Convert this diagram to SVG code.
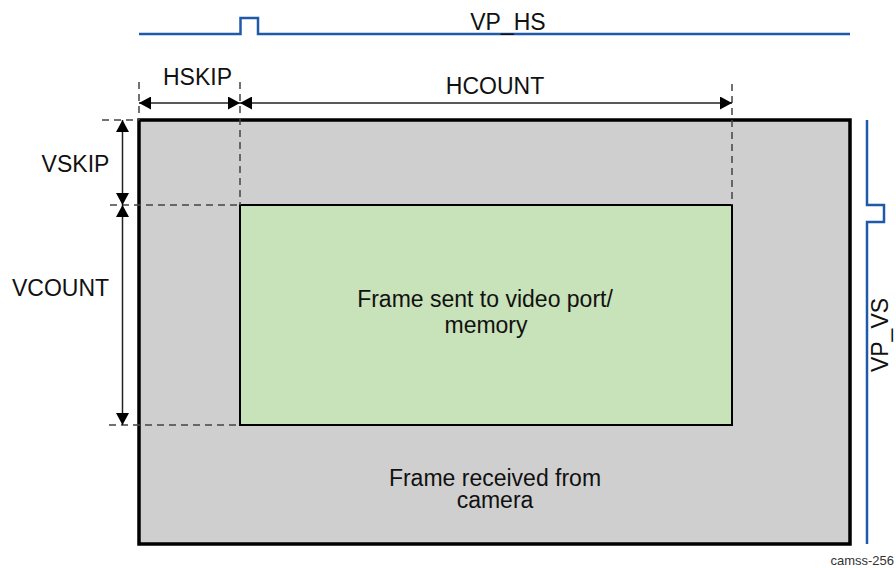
<svg xmlns="http://www.w3.org/2000/svg" width="896" height="568" viewBox="0 0 896 568">
<style>
.t{font-family:"Liberation Sans",Arial,sans-serif;font-size:23px;fill:#111;text-anchor:middle}
.sig{fill:none;stroke:#1f5aa8;stroke-width:2.5}
.dash{fill:none;stroke:#444;stroke-width:1.5;stroke-dasharray:7,5}
.dim{fill:none;stroke:#222;stroke-width:1.5}
</style>
<defs>
<marker id="ah" markerUnits="userSpaceOnUse" markerWidth="12" markerHeight="13" refX="12" refY="6.5" orient="auto-start-reverse" viewBox="0 0 12 13">
<path d="M0,0 L12,6.5 L0,13 z" fill="#000"/>
</marker>
</defs>
<rect width="896" height="568" fill="#fff"/>
<g id="frame-received">
<rect x="139" y="120" width="711" height="424" fill="#cfcfcf" stroke="#000" stroke-width="3.5"/>
<text class="t" x="495" y="486">Frame received from</text>
<text class="t" x="495" y="508">camera</text>
</g>
<g id="frame-sent">
<rect x="240" y="205" width="492" height="220" fill="#c8e2b9" stroke="#000" stroke-width="2"/>
<text class="t" x="485" y="307">Frame sent to video port/</text>
<text class="t" x="486" y="333">memory</text>
</g>
<g id="vp-hs">
<path class="sig" d="M139,34 H240.5 V18 H258 V34 H850"/>
<text class="t" x="508" y="30">VP_HS</text>
</g>
<g id="vp-vs">
<path class="sig" d="M867,120 V205 H884 V222 H867 V544"/>
<text class="t" transform="translate(888,335) rotate(-90)" x="0" y="0">VP_VS</text>
</g>
<g id="connectors">
<path class="dash" d="M139,82 V120 M240,82 V205 M732,84 V205 M102,120 H139 M110,205 H240 M109,425 H240"/>
<line class="dim" x1="139" y1="103" x2="240" y2="103" marker-start="url(#ah)" marker-end="url(#ah)"/>
<line class="dim" x1="240" y1="103" x2="732" y2="103" marker-start="url(#ah)" marker-end="url(#ah)"/>
<line class="dim" x1="122.5" y1="120" x2="122.5" y2="205" marker-start="url(#ah)" marker-end="url(#ah)"/>
<line class="dim" x1="122.5" y1="205" x2="122.5" y2="425" marker-start="url(#ah)" marker-end="url(#ah)"/>
</g>
<g id="labels">
<text class="t" x="197.5" y="85">HSKIP</text>
<text class="t" x="495" y="94">HCOUNT</text>
<text class="t" x="75.5" y="172">VSKIP</text>
<text class="t" x="60.5" y="296">VCOUNT</text>
<text x="894" y="565" style="font-family:'Liberation Sans',Arial,sans-serif;font-size:13px;fill:#333;text-anchor:end">camss-256</text>
</g>
</svg>
